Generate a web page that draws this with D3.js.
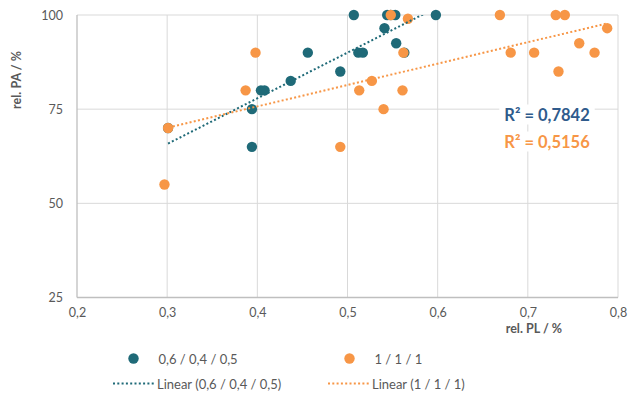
<!DOCTYPE html>
<html>
<head>
<meta charset="utf-8">
<script src="https://cdn.jsdelivr.net/npm/d3@7"></script>
<style>
  html, body { margin: 0; padding: 0; background: #fff; }
  svg { display: block; font-family: Lato, "Open Sans", sans-serif; }
</style>
</head>
<body>
<svg id="chart" width="629" height="396"></svg>
<script>
// Series "0,6 / 0,4 / 0,5"
const tealX = [0.301, 0.394, 0.394, 0.404, 0.408, 0.437, 0.456, 0.492, 0.507, 0.512, 0.517, 0.541, 0.544, 0.548, 0.553, 0.554, 0.563, 0.598];
const tealY = [70, 65, 75, 80, 80, 82.5, 90, 85, 100, 90, 90, 96.5, 100, 100, 100, 92.5, 90, 100];
// Series "1 / 1 / 1"
const orangeX = [0.297, 0.301, 0.387, 0.398, 0.492, 0.513, 0.527, 0.540, 0.548, 0.561, 0.562, 0.567, 0.669, 0.681, 0.707, 0.731, 0.734, 0.741, 0.757, 0.774, 0.788];
const orangeY = [55, 70, 80, 90, 65, 80, 82.5, 75, 100, 80, 90, 99, 100, 90, 90, 100, 85, 100, 92.5, 90, 96.5];

const seriesNames = ["0,6 / 0,4 / 0,5", "1 / 1 / 1"];
const trendNames = ["Linear (0,6 / 0,4 / 0,5)", "Linear (1 / 1 / 1)"];
const r2Labels = ["R² = 0,7842", "R² = 0,5156"];
const xTicks = [0.2, 0.3, 0.4, 0.5, 0.6, 0.7, 0.8];
const yTicks = [25, 50, 75, 100];
const xTitle = "rel. PL / %";
const yTitle = "rel. PA / %";

const colors = ["#1f6a78", "#f79646"];
const r2Colors = ["#2f5b8c", "#f79646"];
const textColor = "#595959";

const svg = d3.select("#chart");
const x = d3.scaleLinear().domain([0.2, 0.8]).range([77, 618]);
const y = d3.scaleLinear().domain([25, 100]).range([297.5, 15]);
const fmt = d => d3.format(".1f")(d).replace(".", ",");

// gridlines
const grid = svg.append("g");
grid.selectAll(".hg").data(yTicks).join("line")
  .attr("x1", x(0.2)).attr("x2", x(0.8))
  .attr("y1", d => y(d)).attr("y2", d => y(d))
  .attr("stroke", "#d9d9d9").attr("stroke-width", 1);
grid.selectAll(".vg").data(xTicks.slice(1)).join("line")
  .attr("x1", d => x(d)).attr("x2", d => x(d))
  .attr("y1", y(25)).attr("y2", y(100))
  .attr("stroke", "#d9d9d9").attr("stroke-width", 1);

// axis lines
svg.append("line").attr("x1", x(0.2)).attr("x2", x(0.2)).attr("y1", y(25)).attr("y2", y(100))
  .attr("stroke", "#bfbfbf").attr("stroke-width", 1.3);
svg.append("line").attr("x1", x(0.2)).attr("x2", x(0.8)).attr("y1", y(25)).attr("y2", y(25))
  .attr("stroke", "#bfbfbf").attr("stroke-width", 1.3);

// tick labels via d3 axes
const yAxis = svg.append("g").attr("transform", `translate(${x(0.2)},0)`)
  .call(d3.axisLeft(y).tickValues(yTicks).tickSize(0).tickPadding(14));
const xAxis = svg.append("g").attr("transform", `translate(0,${y(25)})`)
  .call(d3.axisBottom(x).tickValues(xTicks).tickFormat(fmt).tickSize(0).tickPadding(11));
[yAxis, xAxis].forEach(a => {
  a.select(".domain").remove();
  a.selectAll("text").attr("fill", textColor).style("font-size", "12.5px").style("font-family", "Lato, sans-serif");
});

// axis titles
svg.append("text").attr("transform", `translate(21,80) rotate(-90)`)
  .attr("text-anchor", "middle").attr("fill", textColor)
  .style("font-size", "12.5px").style("font-weight", "bold").text(yTitle);
svg.append("text").attr("x", 562).attr("y", 333)
  .attr("text-anchor", "end").attr("fill", textColor)
  .style("font-size", "12.5px").style("font-weight", "bold").text(xTitle);

const series = [
  { xs: tealX, ys: tealY },
  { xs: orangeX, ys: orangeY }
];

// markers
series.forEach((s, i) => {
  svg.append("g").selectAll("circle").data(d3.range(s.xs.length)).join("circle")
    .attr("cx", k => x(s.xs[k])).attr("cy", k => y(s.ys[k]))
    .attr("r", 5.2).attr("fill", colors[i]);
});

// least-squares trendlines, clipped to the plot area
svg.append("clipPath").attr("id", "plotClip").append("rect")
  .attr("x", x(0.2)).attr("y", y(100)).attr("width", x(0.8) - x(0.2)).attr("height", y(25) - y(100));
function fit(xs, ys) {
  const mx = d3.mean(xs), my = d3.mean(ys);
  let sxy = 0, sxx = 0;
  xs.forEach((v, k) => { sxy += (v - mx) * (ys[k] - my); sxx += (v - mx) * (v - mx); });
  const b = sxy / sxx;
  return { a: my - b * mx, b };
}
series.forEach((s, i) => {
  const f = fit(s.xs, s.ys);
  const [x0, x1] = d3.extent(s.xs);
  svg.append("line").attr("clip-path", "url(#plotClip)")
    .attr("x1", x(x0)).attr("y1", y(f.a + f.b * x0))
    .attr("x2", x(x1)).attr("y2", y(f.a + f.b * x1))
    .attr("stroke", colors[i]).attr("stroke-width", 2)
    .attr("stroke-dasharray", "2 2.3");
});

// R² labels with white backing
const r2Pos = [[547, 114.5], [547, 141.5]];
r2Labels.forEach((t, i) => {
  const g = svg.append("g");
  const txt = g.append("text").attr("x", r2Pos[i][0]).attr("y", r2Pos[i][1])
    .attr("text-anchor", "middle").attr("dominant-baseline", "central")
    .attr("fill", r2Colors[i]).style("font-size", "16.5px").style("font-weight", "bold").text(t);
  const bb = txt.node().getBBox();
  g.insert("rect", "text").attr("x", bb.x - 5).attr("y", bb.y).attr("width", bb.width + 10).attr("height", bb.height)
    .attr("fill", "#fff");
});

// legend
const legMarkX = [133.5, 349.5];
const legLine = [[113, 155], [328, 370]];
seriesNames.forEach((n, i) => {
  svg.append("circle").attr("cx", legMarkX[i]).attr("cy", 358.5).attr("r", 5.2).attr("fill", colors[i]);
  svg.append("text").attr("x", legMarkX[i] + 25).attr("y", 358.5).attr("dominant-baseline", "central")
    .attr("fill", textColor).style("font-size", "13px").text(n);
});
trendNames.forEach((n, i) => {
  svg.append("line").attr("x1", legLine[i][0]).attr("x2", legLine[i][1]).attr("y1", 383.5).attr("y2", 383.5)
    .attr("stroke", colors[i]).attr("stroke-width", 2).attr("stroke-dasharray", "2 2.3");
  svg.append("text").attr("x", legLine[i][1] + 2).attr("y", 383.5).attr("dominant-baseline", "central")
    .attr("fill", textColor).style("font-size", "13px").text(n);
});
</script>
</body>
</html>
